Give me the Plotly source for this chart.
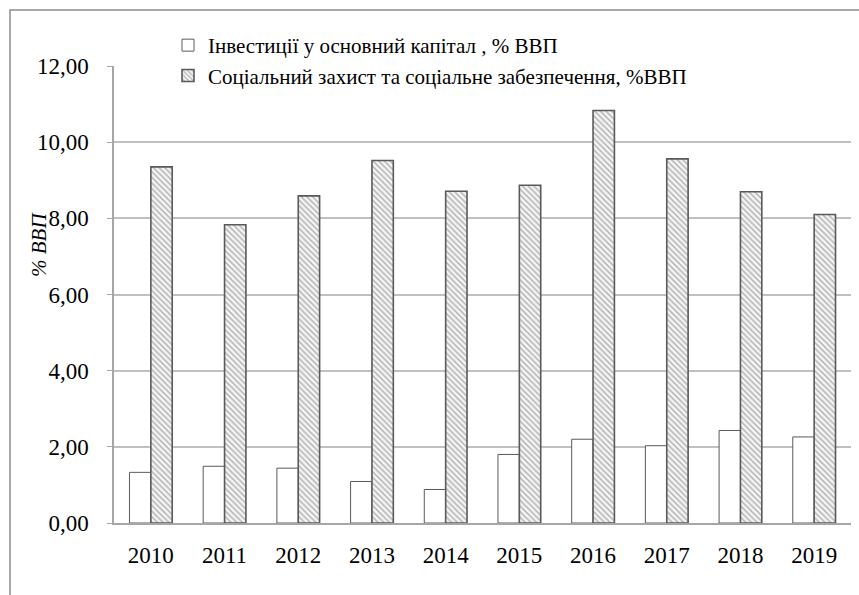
import plotly.graph_objects as go

years = ["2010", "2011", "2012", "2013", "2014", "2015", "2016", "2017", "2018", "2019"]
investment = [1.33, 1.49, 1.44, 1.09, 0.88, 1.80, 2.20, 2.03, 2.43, 2.26]
social = [9.35, 7.83, 8.59, 9.52, 8.71, 8.87, 10.83, 9.56, 8.70, 8.10]

name_invest = "Інвестиції у основний капітал , % ВВП"
name_social = "Соціальний захист та соціальне забезпечення, %ВВП"
y_title = "% ВВП"

FONT = "Liberation Serif"
W, H = 859, 595
L, R, T, B = 114, 8, 66, 72
pw, ph = W - L - R, H - T - B

fig = go.Figure()
fig.add_trace(go.Bar(
    x=years, y=investment, name=name_invest,
    marker=dict(color="white", line=dict(color="#5a5a5a", width=1)),
))
fig.add_trace(go.Bar(
    x=years, y=social, name=name_social,
    marker=dict(
        color="white",
        line=dict(color="#5a5a5a", width=1.6),
        pattern=dict(shape="\\", fgcolor="#6a6a6a", bgcolor="#f4f4f4",
                     size=4, solidity=0.35),
    ),
))


def px_x(p):
    return (p - L) / pw


def px_y(p):
    return (H - B - p) / ph


# outer chart frame (left and top edges visible)
fig.add_shape(type="rect", xref="paper", yref="paper",
              x0=px_x(10), x1=px_x(W + 20), y0=px_y(H + 20), y1=px_y(10),
              line=dict(color="#8c8c8c", width=1.5), fillcolor="rgba(0,0,0,0)",
              layer="below")

fig.add_annotation(text=y_title, xref="paper", yref="paper",
                   x=px_x(39), y=px_y(245), xanchor="center", yanchor="middle",
                   textangle=-90, showarrow=False,
                   font=dict(family=FONT, size=21, color="#000", style="italic"))

fig.update_layout(
    width=W, height=H,
    margin=dict(l=L, r=R, t=T, b=B),
    paper_bgcolor="white", plot_bgcolor="white",
    separators=", ",
    barmode="group", bargap=0.42, bargroupgap=0,
    font=dict(family=FONT, size=22, color="#000"),
    showlegend=True,
    legend=dict(x=px_x(168), y=px_y(25), xanchor="left", yanchor="top",
                font=dict(family=FONT, size=21, color="#000"),
                bgcolor="rgba(0,0,0,0)", tracegroupgap=2,
                itemwidth=30, traceorder="normal"),
    xaxis=dict(showline=True, linecolor="#a6a6a6", linewidth=1.5,
               ticks="", ticklabelstandoff=11,
               tickfont=dict(family=FONT, size=23, color="#000")),
    yaxis=dict(range=[0, 12], dtick=2, tickformat=".2f",
               showline=True, linecolor="#a6a6a6", linewidth=1.5,
               ticks="outside", ticklen=5, tickcolor="#a6a6a6",
               ticklabelstandoff=14,
               showgrid=True, gridcolor="#c0c0c0", gridwidth=1.5,
               zeroline=False,
               tickfont=dict(family=FONT, size=23, color="#000")),
)

fig.write_html("out.html")
